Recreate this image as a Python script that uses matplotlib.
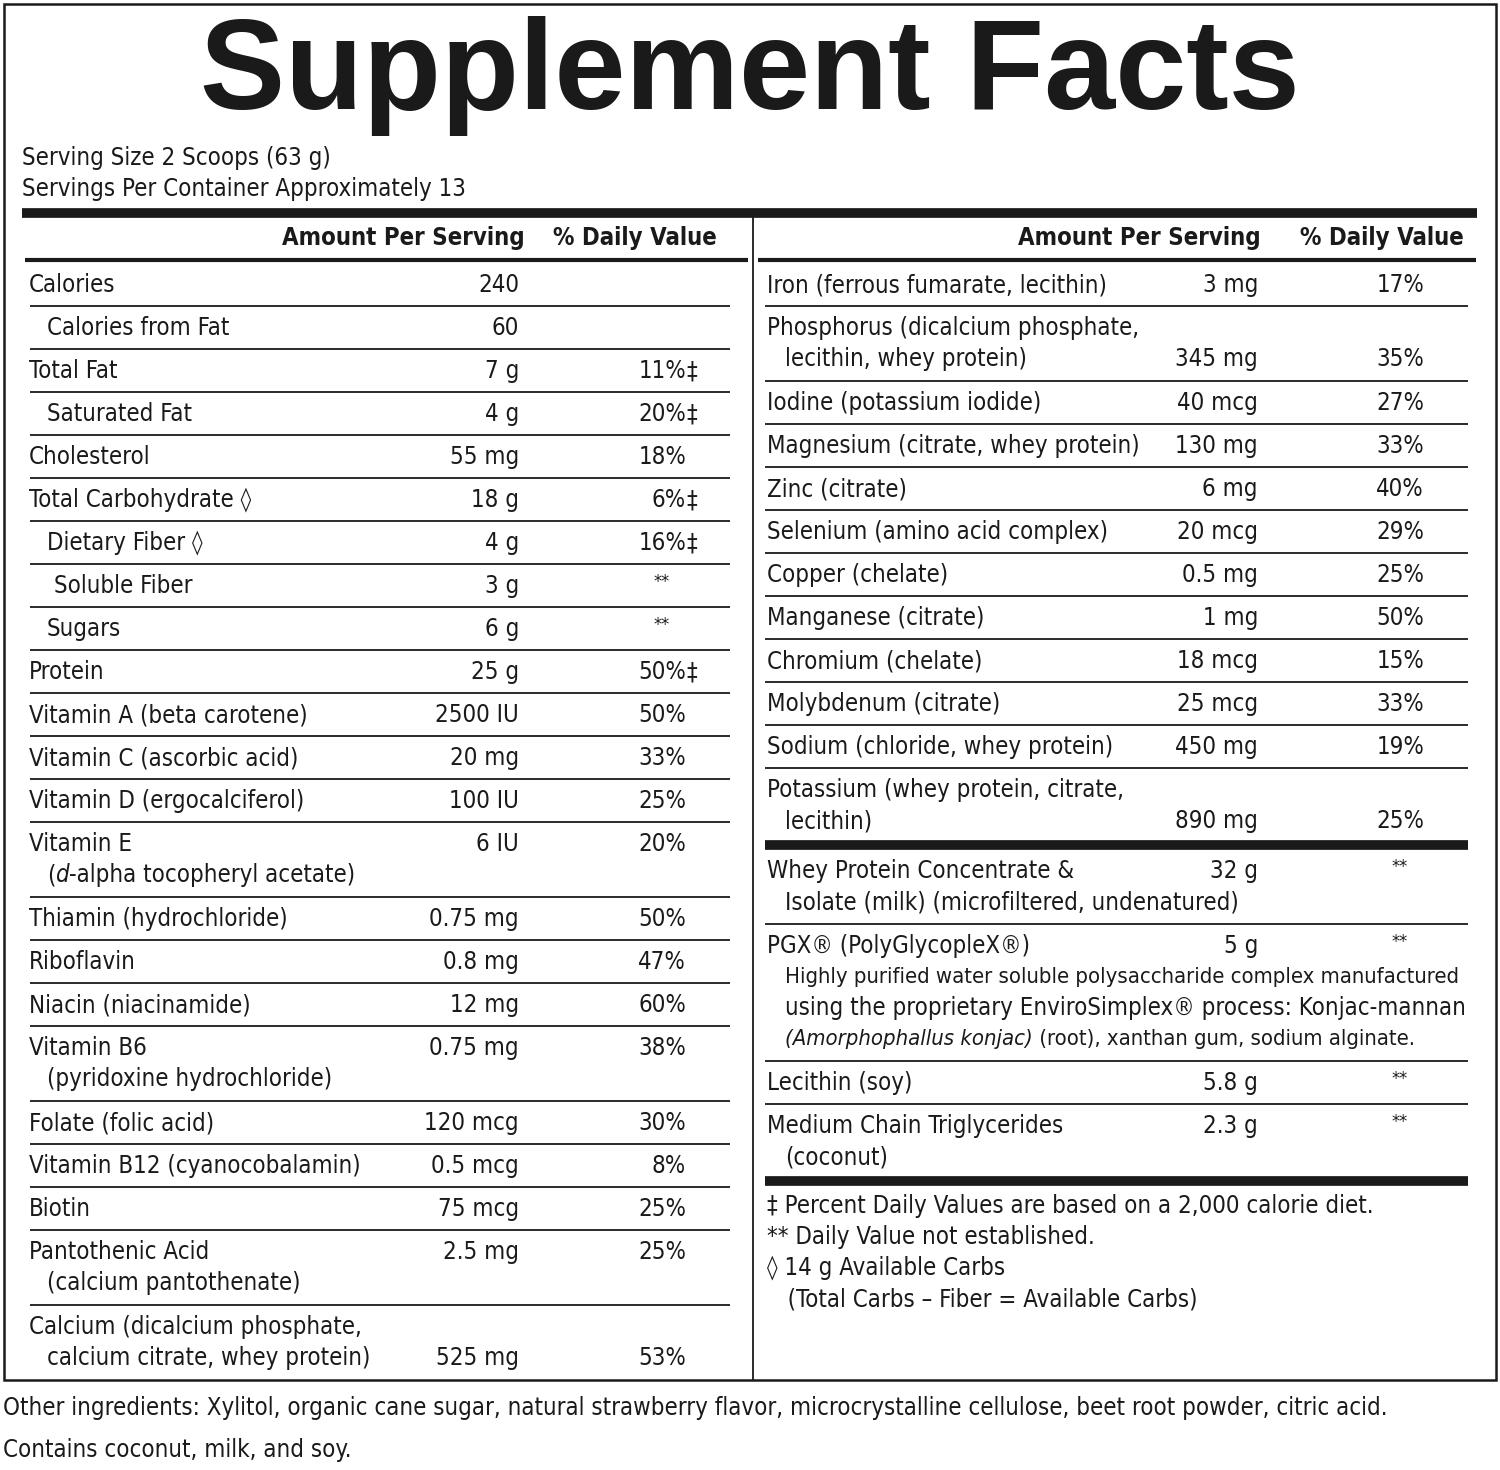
import matplotlib
matplotlib.use("Agg")
import matplotlib.pyplot as plt
from matplotlib import font_manager

names = {f.name for f in font_manager.fontManager.ttflist}
if "Liberation Sans Narrow" in names:
    BODY = dict(family="Liberation Sans Narrow")
    FS = 19
else:
    BODY = dict(family="DejaVu Sans", fontstretch="condensed")
    FS = 17.2

title = "Supplement Facts"
serving = ["Serving Size 2 Scoops (63 g)", "Servings Per Container Approximately 13"]

# left column: (name lines, indent, amount, daily value, mark)
left_rows = [
    (["Calories"], 0, "240", "", ""),
    (["Calories from Fat"], 18, "60", "", ""),
    (["Total Fat"], 0, "7 g", "11%", "‡"),
    (["Saturated Fat"], 18, "4 g", "20%", "‡"),
    (["Cholesterol"], 0, "55 mg", "18%", ""),
    (["Total Carbohydrate \u25CA"], 0, "18 g", "6%", "‡"),
    (["Dietary Fiber \u25CA"], 18, "4 g", "16%", "‡"),
    (["Soluble Fiber"], 25, "3 g", "**", ""),
    (["Sugars"], 18, "6 g", "**", ""),
    (["Protein"], 0, "25 g", "50%", "‡"),
    (["Vitamin A (beta carotene)"], 0, "2500 IU", "50%", ""),
    (["Vitamin C (ascorbic acid)"], 0, "20 mg", "33%", ""),
    (["Vitamin D (ergocalciferol)"], 0, "100 IU", "25%", ""),
    (["Vitamin E", "ITALIC_D"], 0, "6 IU", "20%", ""),
    (["Thiamin (hydrochloride)"], 0, "0.75 mg", "50%", ""),
    (["Riboflavin"], 0, "0.8 mg", "47%", ""),
    (["Niacin (niacinamide)"], 0, "12 mg", "60%", ""),
    (["Vitamin B6", "(pyridoxine hydrochloride)"], 0, "0.75 mg", "38%", ""),
    (["Folate (folic acid)"], 0, "120 mcg", "30%", ""),
    (["Vitamin B12 (cyanocobalamin)"], 0, "0.5 mcg", "8%", ""),
    (["Biotin"], 0, "75 mcg", "25%", ""),
    (["Pantothenic Acid", "(calcium pantothenate)"], 0, "2.5 mg", "25%", ""),
    (["Calcium (dicalcium phosphate,", "calcium citrate, whey protein)"], 0, "525 mg", "53%", "bottom"),
]

right_rows = [
    (["Iron (ferrous fumarate, lecithin)"], "3 mg", "17%", ""),
    (["Phosphorus (dicalcium phosphate,", "lecithin, whey protein)"], "345 mg", "35%", "bottom"),
    (["Iodine (potassium iodide)"], "40 mcg", "27%", ""),
    (["Magnesium (citrate, whey protein)"], "130 mg", "33%", ""),
    (["Zinc (citrate)"], "6 mg", "40%", ""),
    (["Selenium (amino acid complex)"], "20 mcg", "29%", ""),
    (["Copper (chelate)"], "0.5 mg", "25%", ""),
    (["Manganese (citrate)"], "1 mg", "50%", ""),
    (["Chromium (chelate)"], "18 mcg", "15%", ""),
    (["Molybdenum (citrate)"], "25 mcg", "33%", ""),
    (["Sodium (chloride, whey protein)"], "450 mg", "19%", ""),
    (["Potassium (whey protein, citrate,", "lecithin)"], "890 mg", "25%", "bottom"),
]

other_rows = [
    (["Whey Protein Concentrate &", "Isolate (milk) (microfiltered, undenatured)"], "32 g", "**"),
    (["PGX\u00AE (PolyGlycopleX\u00AE)",
      "Highly purified water soluble polysaccharide complex manufactured",
      "using the proprietary EnviroSimplex\u00AE process: Konjac-mannan",
      "ITALIC_KONJAC"], "5 g", "**"),
    (["Lecithin (soy)"], "5.8 g", "**"),
    (["Medium Chain Triglycerides", "(coconut)"], "2.3 g", "**"),
]

footnotes = ["\u2021 Percent Daily Values are based on a 2,000 calorie diet.",
             "** Daily Value not established.",
             "\u25CA 14 g Available Carbs",
             "   (Total Carbs \u2013 Fiber = Available Carbs)"]
other_ingredients = ["Other ingredients: Xylitol, organic cane sugar, natural strawberry flavor, microcrystalline cellulose, beet root powder, citric acid.",
                     "Contains coconut, milk, and soy."]

fig = plt.figure(figsize=(15, 14.7), dpi=100)
ax = fig.add_axes([0, 0, 1, 1])
ax.set_xlim(0, 1500)
ax.set_ylim(1470, 0)
ax.axis("off")
renderer = fig.canvas.get_renderer()


def txt(x, y, s, ha="left", size=None, **kw):
    return ax.text(x, y, s, ha=ha, va="center", fontsize=size or FS, color="#1a1a1a", **BODY, **kw)


def segs(x, y, parts, size=None):
    # draw text segments one after another
    for s, style in parts:
        t = txt(x, y, s, style=style, size=size)
        x += t.get_window_extent(renderer).width


def fit(x, y, s, x1, size=None):
    # shrink a line until it ends before x1
    size = size or FS
    t = txt(x, y, s, size=size)
    while t.get_window_extent(renderer).x1 > x1 and size > 10:
        size -= 0.2
        t.set_fontsize(size)
    return size


def hline(y, x0, x1, lw=1.3):
    ax.plot([x0, x1], [y, y], color="#1a1a1a", lw=lw, solid_capstyle="butt")


# frame
ax.add_patch(plt.Rectangle((4, 4), 1492, 1376, fill=False, lw=1.8, ec="#1a1a1a"))
ax.text(750, 76, title, ha="center", va="center", fontsize=92, fontweight="bold",
        family=["Liberation Sans", "DejaVu Sans"], color="#1a1a1a")
txt(22, 158, serving[0])
txt(22, 189, serving[1])
hline(213, 22, 1477, lw=7)
ax.plot([753, 753], [213, 1380], color="#1a1a1a", lw=1.3)

for x, s in [(525, "Amount Per Serving"), (717, "% Daily Value"),
             (1261, "Amount Per Serving"), (1464, "% Daily Value")]:
    txt(x, 238, s, ha="right", fontweight="bold")
hline(260, 25, 748, lw=3)
hline(260, 758, 1476, lw=3)

SINGLE, DOUBLE, LINE = 43, 75, 31

# left column
top = 264
for i, (lines, ind, amt, dv, mark) in enumerate(left_rows):
    y = top + 21
    vy = y + LINE if mark == "bottom" else y
    for j, ln in enumerate(lines):
        lx = 29 + (18 if j > 0 else ind)
        ly = y + j * LINE
        if ln == "ITALIC_D":
            segs(lx, ly, [("(", "normal"), ("d", "italic"), ("-alpha tocopheryl acetate)", "normal")])
        else:
            txt(lx, ly, ln)
    txt(519, vy, amt, ha="right")
    if dv == "**":
        txt(662, vy - 4, dv, ha="center", size=13)
    elif dv:
        txt(686, vy, dv, ha="right")
    if mark == "‡":
        txt(686, vy, "‡")
    top += SINGLE if len(lines) == 1 else DOUBLE
    if i < len(left_rows) - 1:
        hline(top - 1, 30, 730)

# right column
top = 264
for i, (lines, amt, dv, mark) in enumerate(right_rows):
    y = top + 21
    vy = y + LINE if mark == "bottom" else y
    for j, ln in enumerate(lines):
        fit(767 + (18 if j else 0), y + j * LINE, ln, 1160 if vy == y + j * LINE else 1460)
    txt(1258, vy, amt, ha="right")
    txt(1424, vy, dv, ha="right")
    top += SINGLE if len(lines) == 1 else DOUBLE
    if i < len(right_rows) - 1:
        hline(top - 1, 765, 1468)
hline(top + 1, 765, 1468, lw=7)
top += 6

for i, (lines, amt, dv) in enumerate(other_rows):
    y = top + 21
    psize = FS
    for j, ln in enumerate(lines):
        lx = 767 + (18 if j else 0)
        ly = y + j * LINE
        if ln == "ITALIC_KONJAC":
            segs(lx, ly, [("(Amorphophallus konjac)", "italic"),
                          (" (root), xanthan gum, sodium alginate.", "normal")], size=psize)
        elif j > 0 and len(lines) > 2:
            psize = min(psize, fit(lx, ly, ln, 1468))
        else:
            fit(lx, ly, ln, 1468)
    txt(1258, y, amt, ha="right")
    txt(1400, y - 4, dv, ha="center", size=13)
    top += SINGLE + LINE * (len(lines) - 1) + (1 if len(lines) > 1 else 0)
    if i < len(other_rows) - 1:
        hline(top - 1, 765, 1468)
hline(top + 1, 765, 1468, lw=7)

for k, s in enumerate(footnotes):
    txt(767, top + 26 + k * 31, s)

fit(3, 1408, other_ingredients[0], 1490)
txt(3, 1450, other_ingredients[1])

fig.savefig("out.png", dpi=100, facecolor="white")
